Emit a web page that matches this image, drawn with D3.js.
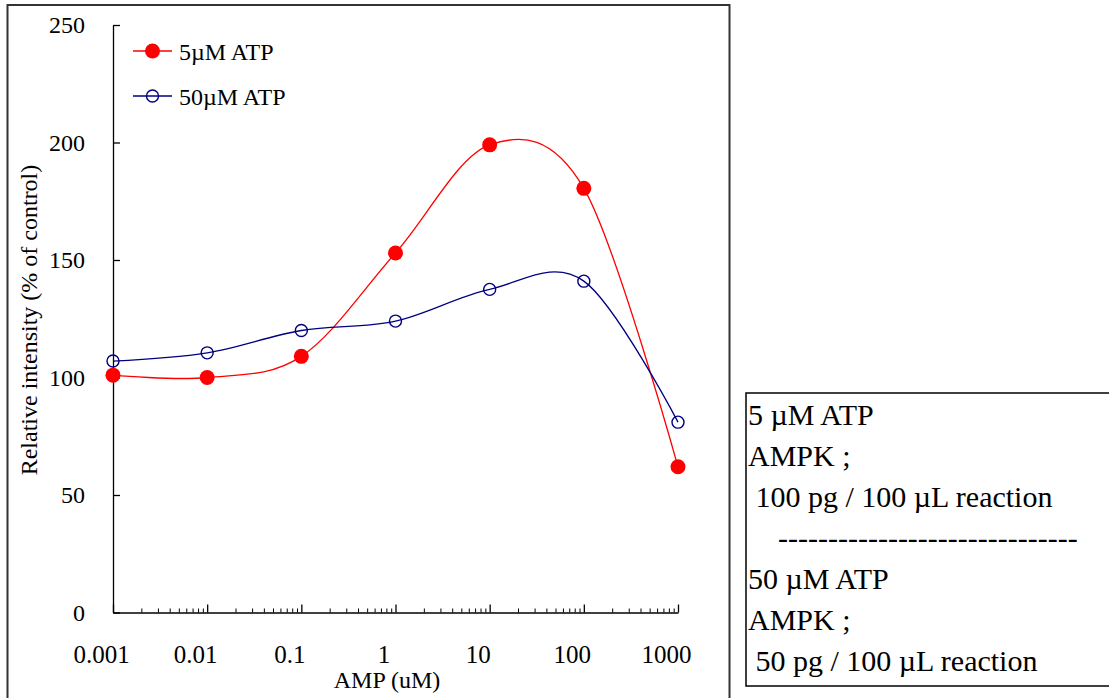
<!DOCTYPE html>
<html>
<head>
<meta charset="utf-8">
<script src="https://cdn.jsdelivr.net/npm/d3@7"></script>
<style>
  body { margin: 0; background: #fff; }
  svg text { font-family: "Liberation Serif", "Times New Roman", serif; fill: #000; }
</style>
</head>
<body>
<div id="chart"></div>
<script>
// AMP concentrations (uM) and relative intensity (% of control)
var ampConc = [0.001, 0.01, 0.1, 1, 10, 100, 1000];
var atp5 = [101, 100, 109, 153, 199, 180.5, 62];
var atp50 = [107, 110.5, 120, 124, 137.5, 141, 81];
var seriesNames = ["5\u00b5M ATP", "50\u00b5M ATP"];
var xTickLabels = ["0.001", "0.01", "0.1", "1", "10", "100", "1000"];
var yTicks = [0, 50, 100, 150, 200, 250];
var noteLines = [
  "5 \u00b5M ATP",
  "AMPK ;",
  " 100 pg / 100 \u00b5L reaction",
  "    ------------------------------",
  "50 \u00b5M ATP",
  "AMPK ;",
  " 50 pg / 100 \u00b5L reaction"
];

const width = 1109;
const height = 698;
const serif = "'Liberation Serif', 'Times New Roman', serif";

var svg = d3.select("#chart")
  .append("svg")
  .attr("width", width)
  .attr("height", height);

svg.append("rect")
  .attr("width", width).attr("height", height)
  .attr("fill", "#fff");

// chart frame (bottom edge runs off the picture)
svg.append("rect")
  .attr("x", 7.5).attr("y", 5)
  .attr("width", 722).attr("height", 720)
  .attr("fill", "none")
  .attr("stroke", "#333")
  .attr("stroke-width", 2);

var x = d3.scaleLog().domain([0.001, 1000]).range([113, 678]);
var y = d3.scaleLinear().domain([0, 250]).range([612.5, 25]);

function isDecade(v) {
  var l = Math.log10(v);
  return Math.abs(l - Math.round(l)) < 1e-9;
}

// minor x ticks
svg.append("g")
  .attr("transform", `translate(0,${y(0)})`)
  .call(d3.axisBottom(x)
    .tickValues(x.ticks().filter(function (v) { return !isDecade(v); }))
    .tickSize(-4)
    .tickFormat(""))
  .call(function (g) { g.select(".domain").remove(); })
  .selectAll("line").attr("stroke", "#000");

// major x ticks + labels
var xAxis = svg.append("g")
  .attr("transform", `translate(0,${y(0)})`)
  .call(d3.axisBottom(x)
    .tickValues(ampConc)
    .tickSize(-8)
    .tickSizeOuter(0)
    .tickPadding(33)
    .tickFormat(function (d, i) { return xTickLabels[i]; }))
  .attr("font-family", serif)
  .attr("font-size", 25);
xAxis.selectAll("text").attr("dx", -12);
xAxis.selectAll("line, path").attr("stroke", "#000").attr("stroke-width", 1.3);

// y axis
var yAxis = svg.append("g")
  .attr("transform", `translate(${x(0.001)},0)`)
  .call(d3.axisLeft(y)
    .tickValues(yTicks)
    .tickSize(-7)
    .tickSizeOuter(0)
    .tickPadding(28))
  .attr("font-family", serif)
  .attr("font-size", 24);
yAxis.selectAll("line, path").attr("stroke", "#000").attr("stroke-width", 1.3);

// axis titles
svg.append("text")
  .attr("x", 387).attr("y", 688)
  .attr("text-anchor", "middle")
  .style("font-size", "24px")
  .text("AMP (uM)");

svg.append("text")
  .attr("transform", "translate(29,320) rotate(-90)")
  .attr("text-anchor", "middle")
  .attr("dominant-baseline", "central")
  .style("font-size", "24px")
  .text("Relative intensity (% of control)");

// smoothed lines
var line = d3.line()
  .x(function (d, i) { return x(ampConc[i]); })
  .y(function (d) { return y(d); })
  .curve(d3.curveCardinal.tension(0));

var colors = ["#ff0000", "#000080"];

svg.append("path")
  .datum(atp5)
  .attr("d", line)
  .attr("fill", "none")
  .attr("stroke", colors[0])
  .attr("stroke-width", 1.3);

svg.append("path")
  .datum(atp50)
  .attr("d", line)
  .attr("fill", "none")
  .attr("stroke", colors[1])
  .attr("stroke-width", 1.3);

// markers
svg.append("g").selectAll("circle")
  .data(atp50)
  .enter().append("circle")
  .attr("cx", function (d, i) { return x(ampConc[i]); })
  .attr("cy", function (d) { return y(d); })
  .attr("r", 6)
  .attr("fill", "none")
  .attr("stroke", colors[1])
  .attr("stroke-width", 1.4);

svg.append("g").selectAll("circle")
  .data(atp5)
  .enter().append("circle")
  .attr("cx", function (d, i) { return x(ampConc[i]); })
  .attr("cy", function (d) { return y(d); })
  .attr("r", 7.5)
  .attr("fill", colors[0]);

// legend
var legend = svg.append("g").selectAll("g")
  .data(seriesNames)
  .enter().append("g")
  .attr("transform", function (d, i) { return `translate(133,${51 + i * 45})`; });

legend.append("line")
  .attr("x1", 0).attr("x2", 39)
  .attr("stroke", function (d, i) { return colors[i]; })
  .attr("stroke-width", 1.3);

legend.append("circle")
  .attr("cx", 19.5)
  .attr("r", function (d, i) { return i == 0 ? 7.5 : 6; })
  .attr("fill", function (d, i) { return i == 0 ? colors[0] : "none"; })
  .attr("stroke", function (d, i) { return i == 0 ? "none" : colors[1]; })
  .attr("stroke-width", 1.4);

legend.append("text")
  .attr("x", 46)
  .attr("y", 8.5)
  .style("font-size", "24px")
  .text(function (d) { return d; });

// note box
svg.append("rect")
  .attr("x", 746).attr("y", 393)
  .attr("width", 400).attr("height", 293)
  .attr("fill", "none")
  .attr("stroke", "#000")
  .attr("stroke-width", 1.5);

svg.append("g").selectAll("text")
  .data(noteLines)
  .enter().append("text")
  .attr("x", 748)
  .attr("y", function (d, i) { return 425 + i * 41; })
  .style("font-size", "30px")
  .style("white-space", "pre")
  .text(function (d) { return d; });
</script>
</body>
</html>
